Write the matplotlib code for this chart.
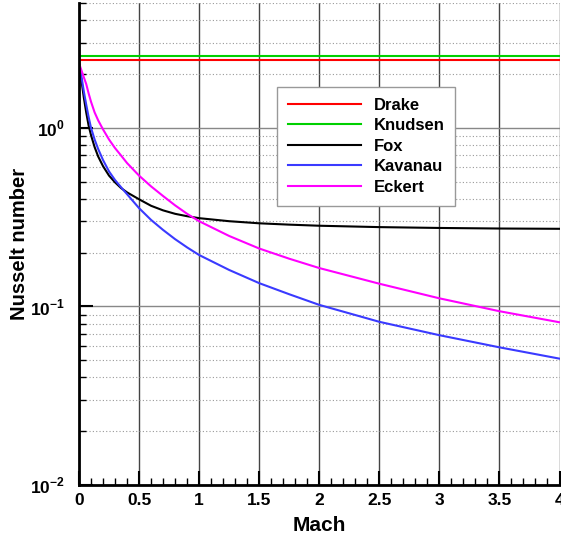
import numpy as np
import matplotlib
matplotlib.use("Agg")
import matplotlib.pyplot as plt
from matplotlib.ticker import MultipleLocator, LogLocator, FuncFormatter, NullFormatter

plt.rcParams['font.family'] = ['Liberation Sans', 'DejaVu Sans']
plt.rcParams['font.weight'] = 'bold'
plt.rcParams['mathtext.fontset'] = 'custom'
plt.rcParams['mathtext.rm'] = 'Liberation Sans:bold'
plt.rcParams['mathtext.bf'] = 'Liberation Sans:bold'

# data
mach = [0, 0.02, 0.04, 0.06, 0.08, 0.1, 0.13, 0.16, 0.2, 0.25, 0.3, 0.35, 0.4, 0.5,
        0.6, 0.7, 0.8, 0.9, 1.0, 1.25, 1.5, 1.75, 2.0, 2.5, 3.0, 3.5, 4.0]
fox = [2.3, 1.85, 1.48, 1.22, 1.03, 0.91, 0.78, 0.69, 0.61, 0.54, 0.495, 0.46, 0.435,
       0.398, 0.366, 0.345, 0.330, 0.320, 0.312, 0.300, 0.292, 0.287, 0.283, 0.278,
       0.275, 0.273, 0.272]
kavanau = [2.3, 1.95, 1.60, 1.35, 1.15, 1.0, 0.86, 0.76, 0.66, 0.57, 0.51, 0.465,
           0.425, 0.355, 0.305, 0.268, 0.238, 0.214, 0.194, 0.160, 0.135, 0.117, 0.102,
           0.082, 0.069, 0.059, 0.051]
eckert = [2.3, 2.1, 1.92, 1.76, 1.56, 1.40, 1.22, 1.10, 0.98, 0.86, 0.77, 0.70, 0.635,
          0.54, 0.47, 0.415, 0.368, 0.330, 0.300, 0.248, 0.211, 0.185, 0.164, 0.134,
          0.111, 0.094, 0.0815]
mach_const = [0, 4]
drake = [2.40, 2.40]
knudsen = [2.53, 2.53]

fig = plt.figure(figsize=(5.61, 5.38), dpi=100)
ax = fig.add_axes([79 / 561, 1 - 485 / 538, 480.5 / 561, 482 / 538])

ax.plot(mach_const, drake, color='#ff0000', lw=1.5, label='Drake')
ax.plot(mach_const, knudsen, color='#00d000', lw=1.5, label='Knudsen')
ax.plot(mach, fox, color='black', lw=1.5, label='Fox')
ax.plot(mach, kavanau, color='#3a3aff', lw=1.5, label='Kavanau')
ax.plot(mach, eckert, color='#ff00ff', lw=1.5, label='Eckert')

ax.set_yscale('log')
ax.set_xlim(0, 4)
ax.set_ylim(0.01, 5)

ax.xaxis.set_major_locator(MultipleLocator(0.5))
ax.xaxis.set_minor_locator(MultipleLocator(0.1))
ax.xaxis.set_major_formatter(FuncFormatter(lambda v, p: '%g' % v))
ax.yaxis.set_major_locator(LogLocator(base=10))
ax.yaxis.set_minor_locator(LogLocator(base=10, subs=np.arange(2, 10)))
ax.yaxis.set_major_formatter(FuncFormatter(lambda v, p: r'$10^{%d}$' % round(np.log10(v))))
ax.yaxis.set_minor_formatter(NullFormatter())

ax.grid(True, which='major', axis='x', color='#444444', lw=1.0)
ax.grid(True, which='major', axis='y', color='#888888', lw=1.0)
ax.grid(True, which='minor', axis='y', color='#999999', lw=0.8, ls=(0, (1, 2)))
ax.set_axisbelow(True)

ax.spines['top'].set_visible(False)
ax.spines['right'].set_visible(False)
ax.spines['left'].set_linewidth(2)
ax.spines['bottom'].set_linewidth(2)

ax.tick_params(which='major', direction='in', length=10, width=1.5, labelsize=12.5)
ax.tick_params(which='minor', direction='in', length=5, width=1)
ax.tick_params(axis='x', which='major', pad=6)
ax.tick_params(axis='y', which='major', pad=10)
ax.tick_params(top=False, right=False, which='both')

ax.set_xlabel('Mach', fontsize=15, fontweight='bold')
ax.set_ylabel('Nusselt number', fontsize=14.5, fontweight='bold')
ax.xaxis.set_label_coords(0.5, -0.064)
ax.yaxis.set_label_coords(-0.104, 0.5)

leg = ax.legend(loc='upper left', bbox_to_anchor=(277 / 561, 1 - 87 / 538),
                bbox_transform=fig.transFigure, fontsize=12, handlelength=4.4,
                handletextpad=0.75, labelspacing=0.33, borderaxespad=0, borderpad=0.65,
                fancybox=False, framealpha=1, edgecolor='#999999')
leg.get_frame().set_linewidth(1.0)

fig.savefig('out.png', dpi=100)
